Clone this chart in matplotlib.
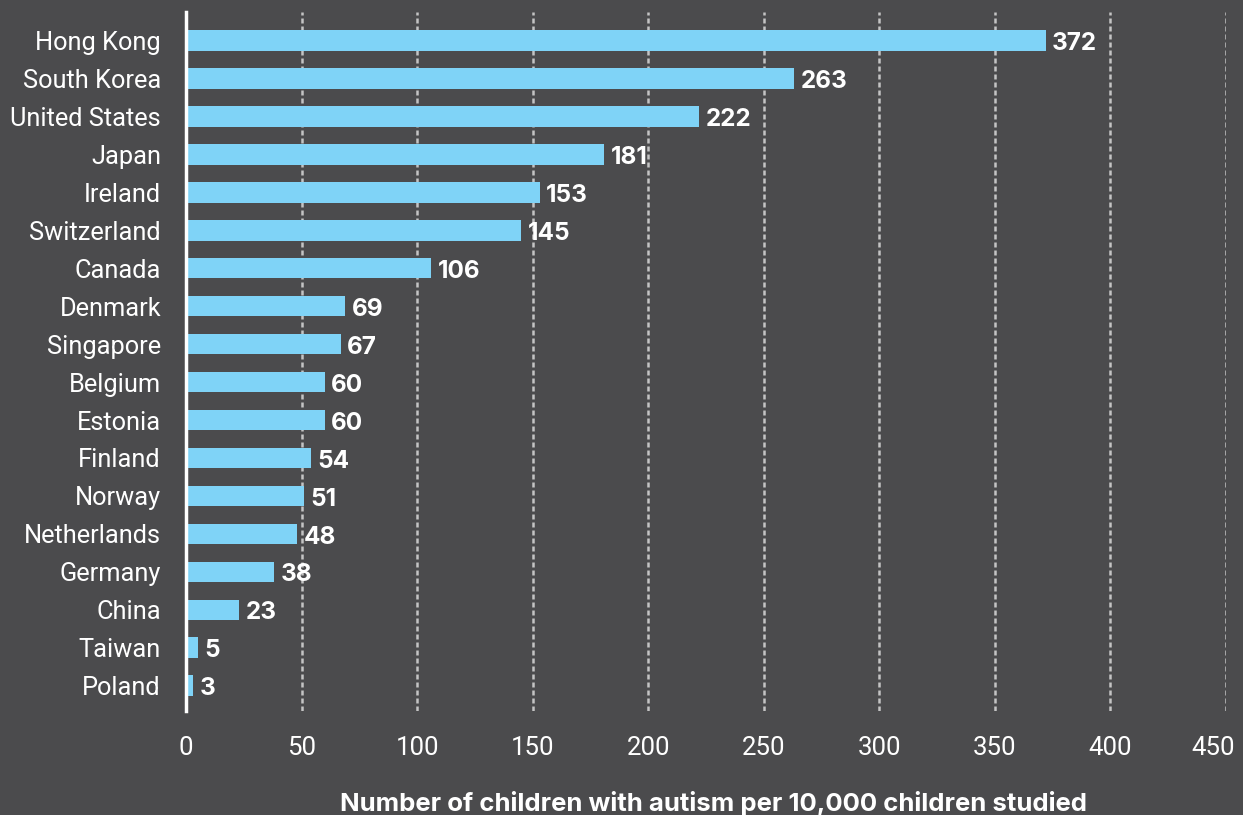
import matplotlib
matplotlib.use("Agg")
import matplotlib.pyplot as plt
import matplotlib.transforms as mtrans

countries = ["Hong Kong", "South Korea", "United States", "Japan", "Ireland",
             "Switzerland", "Canada", "Denmark", "Singapore", "Belgium", "Estonia",
             "Finland", "Norway", "Netherlands", "Germany", "China", "Taiwan", "Poland"]
values = [372, 263, 222, 181, 153, 145, 106, 69, 67, 60, 60, 54, 51, 48, 38, 23, 5, 3]
xticks = [0, 50, 100, 150, 200, 250, 300, 350, 400, 450]
xlabel = "Number of children with autism per 10,000 children studied"

BG = "#4b4b4d"
BAR = "#7fd3f7"

fig = plt.figure(figsize=(12.43, 8.15), dpi=100, facecolor=BG)
ax = fig.add_axes([186/1243, 1-711/815, (1226-186)/1243, (711-12)/815])
ax.set_facecolor(BG)

y = list(range(len(countries)))
ax.barh(y, values, height=0.55, color=BAR, zorder=3)
for yi, v in zip(y, values):
    ax.text(v + 2.8, yi + 0.08, str(v), color="white", fontsize=17.5, fontweight="bold",
            family="Inter", va="center", ha="left", zorder=4)

ax.set_xlim(0, 450)
ax.set_ylim(17.66, -0.74)
ax.set_yticks(y)
ax.set_yticklabels(countries, family="Roboto", fontsize=18.3, color="white")
ax.set_xticks(xticks)
ax.set_xticklabels([str(t) for t in xticks], family="Roboto", fontsize=18.5, color="white")
ax.tick_params(axis="both", length=0)
ax.tick_params(axis="y", pad=18)
ax.tick_params(axis="x", pad=18)
last = ax.get_xticklabels()[-1]
last.set_transform(last.get_transform() + mtrans.ScaledTranslation(-13/100, 0, fig.dpi_scale_trans))

for t in xticks[1:]:
    ax.axvline(t, color="#c4c4c4", lw=1.8, ls=(0, (2, 1.2)), zorder=1)

for s in ["top", "right", "bottom"]:
    ax.spines[s].set_visible(False)
ax.spines["left"].set_color("white")
ax.spines["left"].set_linewidth(2.5)
ax.spines["left"].set_zorder(5)

fig.text(714/1243, 1-803/815, xlabel, family="Inter", fontsize=18.5, fontweight="bold",
         color="white", ha="center", va="center")

fig.savefig("out.png", dpi=100, facecolor=BG)
